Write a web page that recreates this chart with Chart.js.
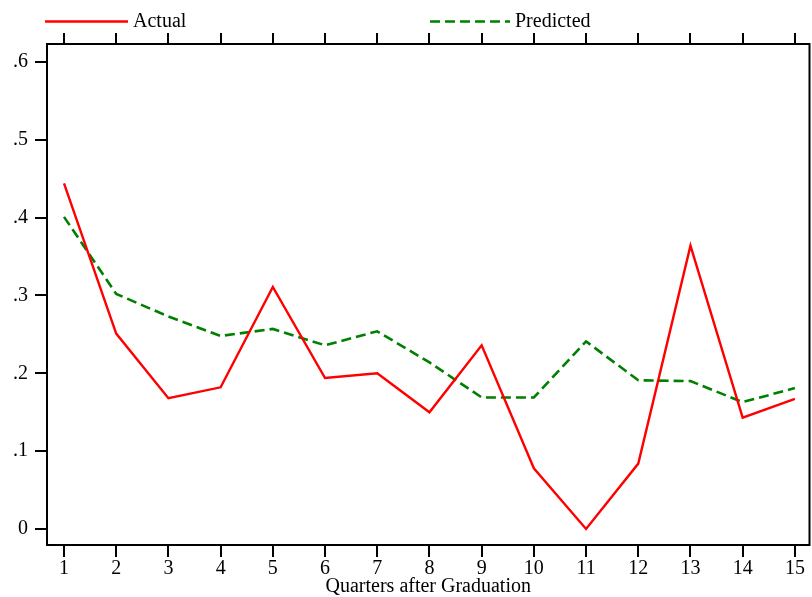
<!DOCTYPE html>
<html>
<head>
<meta charset="utf-8">
<script src="https://cdn.jsdelivr.net/npm/chart.js@4"></script>
<style>
  html, body { margin: 0; padding: 0; background: #fff; }
  #chart { display: block; }
</style>
</head>
<body>
<canvas id="chart" width="812" height="597" style="width:812px;height:597px"></canvas>
<script>
// Data
const quarters = [1, 2, 3, 4, 5, 6, 7, 8, 9, 10, 11, 12, 13, 14, 15];
const actual = [0.444, 0.251, 0.168, 0.182, 0.311, 0.194, 0.200, 0.150, 0.236, 0.078, 0.000, 0.084, 0.364, 0.143, 0.167];
const predicted = [0.401, 0.302, 0.273, 0.248, 0.257, 0.236, 0.254, 0.214, 0.169, 0.169, 0.241, 0.191, 0.190, 0.163, 0.181];
const yTicks = [0, 0.1, 0.2, 0.3, 0.4, 0.5, 0.6];
const yTickLabels = ['0', '.1', '.2', '.3', '.4', '.5', '.6'];
const seriesNames = ['Actual', 'Predicted'];
const xTitle = 'Quarters after Graduation';

const FONT = '"Liberation Serif", "Times New Roman", serif';

const toPoints = (vals) => vals.map((v, i) => ({ x: quarters[i], y: v }));

// Box round the plot area
const framePlugin = {
    id: 'frame',
    afterDraw(chart) {
        const a = chart.chartArea;
        const ctx = chart.ctx;
        ctx.save();
        ctx.strokeStyle = '#000';
        ctx.lineWidth = 2;
        ctx.strokeRect(a.left, a.top, a.right - a.left, a.bottom - a.top);
        ctx.restore();
    }
};

// Legend above the top axis, drawn like the original (long line sample + label)
const legendPlugin = {
    id: 'stataLegend',
    afterDraw(chart) {
        const ctx = chart.ctx;
        const items = [
            { x0: 45, x1: 128, tx: 133, ds: chart.data.datasets[0] },
            { x0: 430, x1: 510, tx: 515, ds: chart.data.datasets[1] }
        ];
        const y = 21.5;
        ctx.save();
        items.forEach(it => {
            ctx.strokeStyle = it.ds.borderColor;
            ctx.lineWidth = it.ds.borderWidth;
            ctx.setLineDash(it.ds.borderDash || []);
            ctx.beginPath();
            ctx.moveTo(it.x0, y);
            ctx.lineTo(it.x1, y);
            ctx.stroke();
            ctx.setLineDash([]);
            ctx.fillStyle = '#000';
            ctx.font = '20px ' + FONT;
            ctx.textBaseline = 'middle';
            ctx.textAlign = 'left';
            ctx.fillText(it.ds.label, it.tx, y + 0.5);
        });
        ctx.restore();
    }
};

new Chart(document.getElementById('chart').getContext('2d'), {
    type: 'line',
    data: {
        datasets: [{
            label: seriesNames[0],
            data: toPoints(actual),
            borderColor: '#ff0000',
            borderWidth: 2.4,
            pointRadius: 0,
            tension: 0,
            fill: false
        }, {
            label: seriesNames[1],
            data: toPoints(predicted),
            borderColor: '#008000',
            borderWidth: 2.6,
            borderDash: [10, 5],
            pointRadius: 0,
            tension: 0,
            fill: false
        }]
    },
    options: {
        responsive: false,
        maintainAspectRatio: false,
        animation: false,
        layout: { padding: { left: 0, right: 2.5, top: 0, bottom: 0 } },
        plugins: {
            legend: { display: false },
            tooltip: { enabled: false }
        },
        scales: {
            x: {
                type: 'linear',
                position: 'bottom',
                min: 0.674,
                max: 15.28,
                afterBuildTicks: (s) => { s.ticks = quarters.map(v => ({ value: v })); },
                afterFit: (s) => { s.height = 52; },
                border: { display: false },
                grid: { drawOnChartArea: false, drawTicks: true, tickLength: 12, color: '#000', lineWidth: 2 },
                ticks: { color: '#000', font: { family: FONT, size: 20 }, padding: 0, maxRotation: 0, autoSkip: false },
                title: { display: true, text: xTitle, color: '#000', font: { family: FONT, size: 20, lineHeight: 1.0 }, padding: { top: 0, bottom: 0 } }
            },
            x2: {
                type: 'linear',
                position: 'top',
                min: 0.674,
                max: 15.28,
                afterBuildTicks: (s) => { s.ticks = quarters.map(v => ({ value: v })); },
                afterFit: (s) => { s.height = 44; },
                border: { display: false },
                grid: { drawOnChartArea: false, drawTicks: true, tickLength: 11, color: '#000', lineWidth: 2 },
                ticks: { display: false }
            },
            y: {
                type: 'linear',
                position: 'left',
                min: -0.0206,
                max: 0.6231,
                afterBuildTicks: (s) => { s.ticks = yTicks.map(v => ({ value: v })); },
                afterFit: (s) => { s.width = 47; },
                border: { display: false },
                grid: { drawOnChartArea: false, drawTicks: true, tickLength: 12, color: '#000', lineWidth: 2 },
                ticks: {
                    color: '#000',
                    font: { family: FONT, size: 20 },
                    padding: 7,
                    callback: (value) => yTickLabels[yTicks.indexOf(Math.round(value * 10) / 10)]
                }
            }
        }
    },
    plugins: [framePlugin, legendPlugin]
});
</script>
</body>
</html>
